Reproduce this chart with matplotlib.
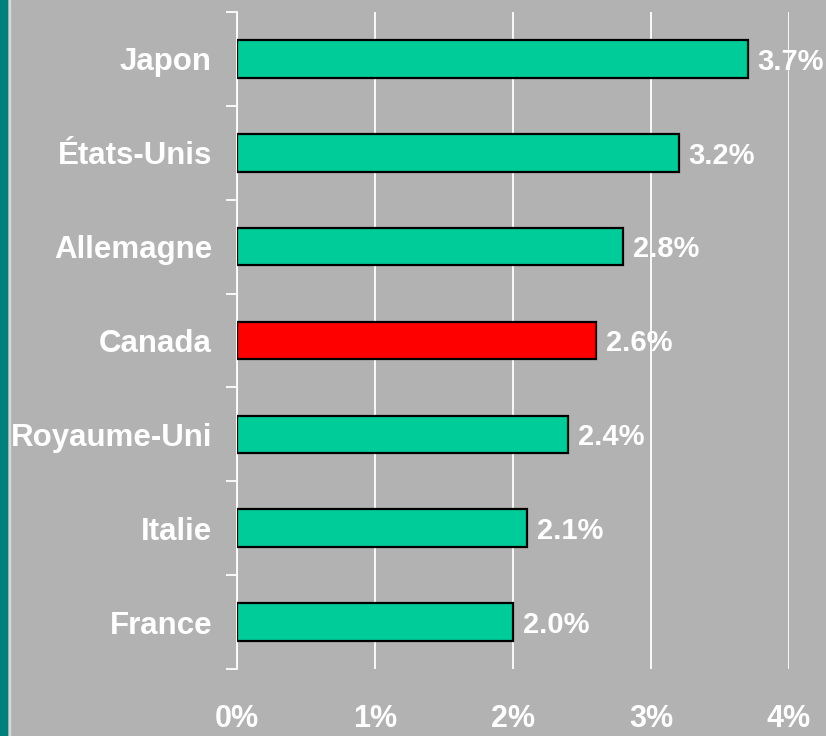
import numpy as np
import matplotlib
matplotlib.use("Agg")
import matplotlib.pyplot as plt
from matplotlib.patches import Rectangle

countries = ["France", "Italie", "Royaume-Uni", "Canada", "Allemagne", "États-Unis", "Japon"]
values = [2.0, 2.1, 2.4, 2.6, 2.8, 3.2, 3.7]
highlight = "Canada"
xticks = [0, 1, 2, 3, 4]
xtick_labels = ["0%", "1%", "2%", "3%", "4%"]

bg = "#B2B2B2"
green = "#00CC99"
red = "#FF0000"

plt.rcParams["font.family"] = ["Liberation Sans", "DejaVu Sans"]
plt.rcParams["font.weight"] = "bold"

fig = plt.figure(figsize=(8.26, 7.36), dpi=100, facecolor=bg)
ax = fig.add_axes([237 / 826, 67 / 736, 552 / 826, 657 / 736])
ax.set_facecolor(bg)

# left edge decoration
fig.patches.append(Rectangle((0, 0), 7 / 826, 1, transform=fig.transFigure,
                             color="#00807A", zorder=0))
fig.patches.append(Rectangle((8.5 / 826, 0), 1.5 / 826, 1, transform=fig.transFigure,
                             color="#D8D8D8", zorder=0))

y = np.arange(len(countries))
colors = [red if c == highlight else green for c in countries]
ax.barh(y, values, height=0.4, color=colors, edgecolor="black", linewidth=1.6, zorder=3)

for yi, v in zip(y, values):
    ax.annotate(f"{v:.1f}%", (v, yi), xytext=(7, -2), textcoords="offset points",
                ha="left", va="center", color="white", fontsize=21,
                fontweight="bold", zorder=1)

ax.set_xlim(0, 4)
ax.set_ylim(-0.5, len(countries) - 0.5)

ax.set_xticks(xticks)
ax.set_xticklabels(xtick_labels, fontsize=22, fontweight="bold", color="white")
ax.tick_params(axis="x", length=0, pad=25)
ax.xaxis.grid(True, color="white", linewidth=1.3, zorder=2)
ax.set_axisbelow(False)

ax.set_yticks(np.arange(-0.5, len(countries), 1.0))
ax.set_yticklabels([])
ax.set_yticks(y, minor=True)
ax.set_yticklabels(countries, minor=True, fontsize=22.5, fontweight="bold", color="white")
ax.tick_params(axis="y", which="major", length=8, width=1.3, color="white", direction="out")
ax.tick_params(axis="y", which="minor", length=0, pad=18)

for s in ["top", "right", "bottom"]:
    ax.spines[s].set_visible(False)
ax.spines["left"].set_color("white")
ax.spines["left"].set_linewidth(1.3)

fig.savefig("out.png", dpi=100, facecolor=bg)
